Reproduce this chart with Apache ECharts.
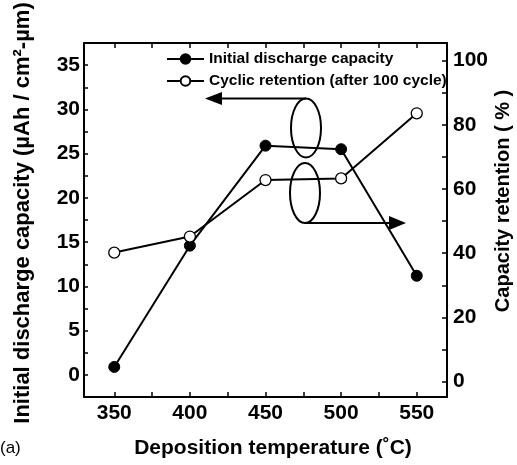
<!DOCTYPE html>
<html>
<head>
<meta charset="utf-8">
<script src="https://cdn.jsdelivr.net/npm/echarts@6/dist/echarts.min.js"></script>
<style>
  html, body { margin: 0; padding: 0; background: #fff; }
  #chart { width: 517px; height: 465px; }
</style>
</head>
<body>
<div id="chart"></div>
<script>
// Deposition temperature (°C)
const temperatures = [350, 400, 450, 500, 550];
// Initial discharge capacity (µAh / cm²-µm), left axis
const capacity = [0.9, 14.6, 25.9, 25.5, 11.2];
// Capacity retention after 100 cycles (%), right axis
const retention = [40.2, 45.2, 62.8, 63.3, 83.6];

// Tick / label positions
const xLabels = [350, 400, 450, 500, 550];
const xTicks = [350, 375, 400, 425, 450, 475, 500, 525, 550];
const leftLabels = [0, 5, 10, 15, 20, 25, 30, 35];
const leftTicks = [0, 2.5, 5, 7.5, 10, 12.5, 15, 17.5, 20, 22.5, 25, 27.5, 30, 32.5, 35];
const rightLabels = [0, 20, 40, 60, 80, 100];
const rightTicks = [0, 10, 20, 30, 40, 50, 60, 70, 80, 90, 100];

const FONT = '"Liberation Sans", Arial, sans-serif';
const INK = '#000';

const chart = echarts.init(document.getElementById('chart'), null, { renderer: 'canvas' });

const axisLine = { show: true, onZero: false, lineStyle: { color: INK, width: 2 } };
const tickStyle = { color: INK, width: 1.5 };
const labelFont = { color: INK, fontFamily: FONT, fontWeight: 'bold', fontSize: 21 };

chart.setOption({
  animation: false,
  backgroundColor: '#fff',
  grid: { left: 84, right: 70, top: 43, bottom: 68, containLabel: false },
  legend: {
    orient: 'vertical',
    left: 166,
    top: 51,
    padding: 0,
    itemWidth: 37,
    itemHeight: 12,
    itemGap: 6,
    textStyle: { color: INK, fontFamily: FONT, fontWeight: 'bold', fontSize: 15.5 },
    data: ['Initial discharge capacity', 'Cyclic retention (after 100 cycle)']
  },
  xAxis: [
    {
      type: 'value', min: 330, max: 570, position: 'bottom',
      axisLine: axisLine,
      axisTick: { show: true, inside: true, length: 5, lineStyle: tickStyle, customValues: xTicks },
      axisLabel: Object.assign({ margin: 6, customValues: xLabels }, labelFont),
      splitLine: { show: false },
      name: 'Deposition temperature (\u02DAC)',
      nameLocation: 'middle',
      nameGap: 41,
      nameTextStyle: {
        color: INK, fontFamily: FONT, fontWeight: 'bold', fontSize: 21,
        padding: [0, 0, 0, 15]
      }
    },
    {
      type: 'value', min: 330, max: 570, position: 'top',
      axisLine: axisLine,
      axisTick: { show: true, inside: true, length: 5, lineStyle: tickStyle, customValues: xTicks },
      axisLabel: { show: false },
      splitLine: { show: false }
    }
  ],
  yAxis: [
    {
      type: 'value', min: -2.5, max: 37.5, position: 'left',
      axisLine: axisLine,
      axisTick: { show: true, inside: true, length: 4, lineStyle: tickStyle, customValues: leftTicks },
      axisLabel: Object.assign({ margin: 4, customValues: leftLabels }, labelFont),
      splitLine: { show: false }
    },
    {
      type: 'value', min: -4.8, max: 105.5, position: 'right',
      axisLine: axisLine,
      axisTick: { show: true, inside: true, length: 5, lineStyle: tickStyle, customValues: rightTicks },
      axisLabel: Object.assign({ margin: 6, customValues: rightLabels }, labelFont),
      splitLine: { show: false }
    }
  ],
  series: [
    {
      name: 'Initial discharge capacity',
      type: 'line',
      xAxisIndex: 0, yAxisIndex: 0,
      data: temperatures.map((t, i) => [t, capacity[i]]),
      symbol: 'circle', symbolSize: 11,
      lineStyle: { color: INK, width: 2 },
      itemStyle: { color: INK, borderColor: INK, borderWidth: 1 },
      z: 3
    },
    {
      name: 'Cyclic retention (after 100 cycle)',
      type: 'line',
      xAxisIndex: 0, yAxisIndex: 1,
      data: temperatures.map((t, i) => [t, retention[i]]),
      symbol: 'circle', symbolSize: 11,
      lineStyle: { color: INK, width: 2 },
      itemStyle: { color: '#fff', borderColor: INK, borderWidth: 1.3 },
      z: 3
    }
  ],
  graphic: [
    // axis titles
    {
      type: 'text', x: 23, y: 213, rotation: Math.PI / 2,
      style: {
        text: 'Initial discharge capacity (\u00B5Ah / cm\u00B2-\u00B5m)',
        fill: INK, font: 'bold 22px ' + FONT, align: 'center', verticalAlign: 'middle'
      }
    },
    {
      type: 'text', x: 503, y: 201, rotation: Math.PI / 2,
      style: {
        text: 'Capacity retention ( % )',
        fill: INK, font: 'bold 20px ' + FONT, align: 'center', verticalAlign: 'middle'
      }
    },
    {
      type: 'text', x: 0, y: 448,
      style: { text: '(a)', fill: INK, font: '17px ' + FONT, align: 'left', verticalAlign: 'middle' }
    },
    // ellipse grouping the capacity points, with arrow to the left axis
    {
      type: 'ellipse', shape: { cx: 306, cy: 128, rx: 15, ry: 29.5 },
      style: { fill: 'none', stroke: INK, lineWidth: 2 }, z: 10
    },
    {
      type: 'line', shape: { x1: 306, y1: 98.5, x2: 218, y2: 98.5 },
      style: { stroke: INK, lineWidth: 2 }, z: 10
    },
    {
      type: 'polygon', shape: { points: [[205, 98.5], [222, 92], [222, 105]] },
      style: { fill: INK }, z: 10
    },
    // ellipse grouping the retention points, with arrow to the right axis
    {
      type: 'ellipse', shape: { cx: 305, cy: 193, rx: 15, ry: 30 },
      style: { fill: 'none', stroke: INK, lineWidth: 2 }, z: 10
    },
    {
      type: 'line', shape: { x1: 305, y1: 223, x2: 392, y2: 223 },
      style: { stroke: INK, lineWidth: 2 }, z: 10
    },
    {
      type: 'polygon', shape: { points: [[406, 223], [389, 216], [389, 230]] },
      style: { fill: INK }, z: 10
    }
  ]
});
</script>
</body>
</html>
